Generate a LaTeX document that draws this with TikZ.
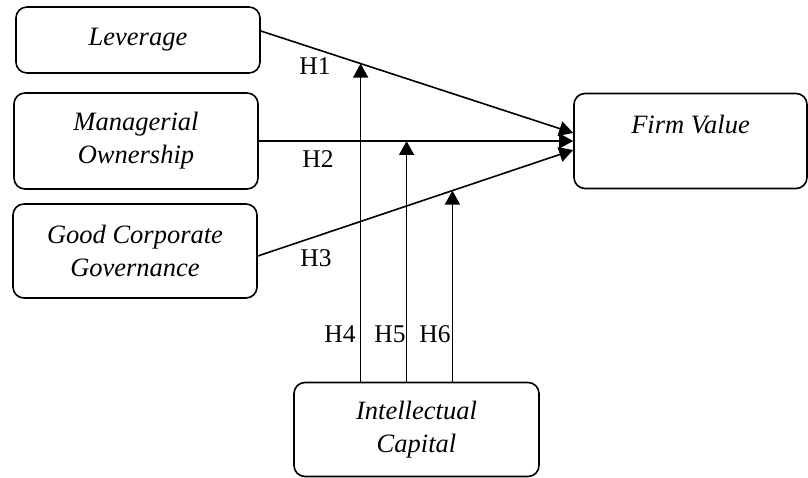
\documentclass[tikz,border=0pt]{standalone}
\usepackage{fontspec}
\setmainfont{Liberation Serif}
\usetikzlibrary{arrows.meta,calc}
\begin{document}
\begin{tikzpicture}[x=1pt,y=-1pt,
  box/.style={draw,line width=1.6pt,rounded corners=11pt,align=center,
    font=\fontsize{26.5}{33}\selectfont\itshape,inner sep=0pt},
  lab/.style={font=\fontsize{25.5}{30}\selectfont,inner sep=0pt},
  arr/.style={line width=1.6pt,-{Triangle[length=14pt,width=15pt]}}]
\useasboundingbox (0,0) rectangle (808,478);
\node[box,minimum width=244pt,minimum height=66pt] (lev) at (138,40) {Leverage};
\node[box,minimum width=244pt,minimum height=96pt] (mo) at (136,141) {Managerial\\Ownership};
\node[box,minimum width=244pt,minimum height=94pt] (gcg) at (135,251) {Good Corporate\\Governance};
\node[box,minimum width=233pt,minimum height=95pt] (fv) at (690.5,141) {Firm Value\\\mbox{}};
\node[box,minimum width=245pt,minimum height=94pt] (ic) at (416.5,429.5) {Intellectual\\Capital};
% direct paths
\coordinate (h1s) at ([yshift=9pt]lev.east);
\coordinate (h1e) at ([yshift=8pt]fv.west);
\coordinate (h2s) at (mo.east);
\coordinate (h2e) at (fv.west);
\coordinate (h3s) at ([yshift=-5pt]gcg.east);
\coordinate (h3e) at ([yshift=-9pt]fv.west);
\draw[arr] (h1s) -- (h1e);
\draw[arr] (h2s) -- (h2e);
\draw[arr] (h3s) -- (h3e);
% moderating paths
\coordinate (t4) at ($(h1s)!0.3195!(h1e)$);
\coordinate (t5) at ($(h2s)!0.47!(h2e)$);
\coordinate (t6) at ($(h3s)!0.617!(h3e)$);
\draw[arr] (t4 |- ic.north) -- (t4);
\draw[arr] (t5 |- ic.north) -- (t5);
\draw[arr] (t6 |- ic.north) -- (t6);
% labels
\node[lab] (l1) at (315,66) {H1};
\node[lab] (l2) at (318,159) {H2};
\node[lab] (l3) at (316,258) {H3};
\node[lab] (l4) at (340,334) {H4};
\node[lab] (l5) at (390,334) {H5};
\node[lab] (l6) at (435,334) {H6};
\end{tikzpicture}
\end{document}
